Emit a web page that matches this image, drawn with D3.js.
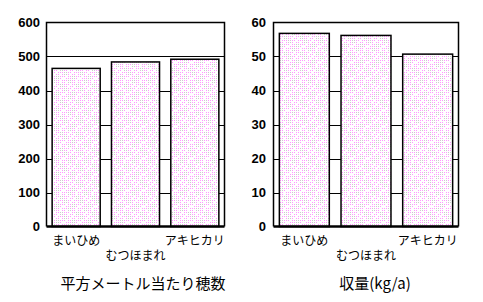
<!DOCTYPE html>
<html><head><meta charset="utf-8">
<script src="https://cdn.jsdelivr.net/npm/d3@7"></script>
<style>body{margin:0;background:#fff}svg{display:block}</style>
</head><body>
<script>
const categories = ["まいひめ", "むつほまれ", "アキヒカリ"];
const panicles = [465, 484, 492];
const yieldKg = [56.8, 56.2, 50.7];
const ticksLeft = [0, 100, 200, 300, 400, 500, 600];
const ticksRight = [0, 10, 20, 30, 40, 50, 60];
const titles = ["平方メートル当たり穂数", "収量(kg/a)"];

const W = 483, H = 302;
const svg = d3.select("body").append("svg").attr("width", W).attr("height", H);

// texture mask: p = pink dot, g = grey dot, . = gap (one cell = 2px)
const mask = [
  "ppggpp.p",
  "p.ggpp.p",
  "ppp.ppgg",
  "pp.pp.gg",
  "ggpp.ppp",
  "ggp.pp.p",
  "p.ppggpp",
  ".pppggp.",
];
const defs = svg.append("defs");
const P = 16;
const pat = defs.append("pattern").attr("id", "dots").attr("patternUnits", "userSpaceOnUse")
  .attr("width", P).attr("height", P);
pat.append("rect").attr("width", P).attr("height", P).attr("fill", "#fff");
mask.forEach((row, j) => row.split("").forEach((c, i) => {
  if (c === ".") return;
  pat.append("rect").attr("x", i * 2).attr("y", j * 2).attr("width", 1).attr("height", 1)
    .attr("fill", c === "g" ? "#cccccc" : "#ff99ff");
}));

function panel(opts) {
  const g = svg.append("g");
  const x = d3.scaleBand().domain(categories).range([opts.x0, opts.x1]).paddingInner(opts.pad).paddingOuter(opts.pad / 2);
  const y = d3.scaleLinear().domain([0, opts.max]).range([226.5, 22.5]);
  g.selectAll(".grid").data(opts.ticks.filter(t => t > 0 && t < opts.max)).join("line")
    .attr("x1", opts.x0).attr("x2", opts.x1)
    .attr("y1", d => Math.round(y(d)) + 0.5).attr("y2", d => Math.round(y(d)) + 0.5)
    .attr("stroke", "#000").attr("stroke-width", 1);
  g.selectAll(".bar").data(opts.values).join("rect")
    .attr("x", (d, i) => x(categories[i]))
    .attr("y", d => y(d))
    .attr("width", x.bandwidth())
    .attr("height", d => y(0) - y(d))
    .attr("fill", "url(#dots)").attr("stroke", "#000").attr("stroke-width", 1.5);
  g.append("path").attr("d", `M${opts.x0},${y(0)}V${y(opts.max)}H${opts.x1}V${y(0)}`)
    .attr("fill", "none").attr("stroke", "#000").attr("stroke-width", 1.5);
  g.append("line").attr("x1", opts.x0).attr("x2", opts.x1).attr("y1", y(0)).attr("y2", y(0))
    .attr("stroke", "#000").attr("stroke-width", 2.5);
  const ax = d3.axisLeft(y).tickValues(opts.ticks).tickSize(0).tickPadding(0);
  const axg = g.append("g").attr("transform", `translate(${opts.labelX},0)`).call(ax);
  axg.select(".domain").remove();
  axg.selectAll("text").attr("font-family", "Liberation Sans, Arial, sans-serif")
    .attr("font-weight", "bold").attr("font-size", 13).attr("fill", "#000");
  g.selectAll(".cat").data(categories).join("text")
    .attr("x", d => x(d) + x.bandwidth() / 2)
    .attr("y", (d, i) => i === 1 ? 260 : 245)
    .attr("text-anchor", "middle")
    .attr("font-family", "Noto Sans CJK JP").attr("font-size", 12).attr("fill", "#000")
    .text(d => d);
  g.append("text").attr("x", opts.titleX).attr("y", 289).attr("text-anchor", "middle")
    .attr("font-family", "Noto Sans CJK JP").attr("font-size", 15).attr("fill", "#000")
    .text(opts.title);
}

panel({x0: 46.5, x1: 224.5, pad: 0.19, max: 600, ticks: ticksLeft, values: panicles, labelX: 40, title: titles[0], titleX: 143});
panel({x0: 273.5, x1: 458.5, pad: 0.19, max: 60, ticks: ticksRight, values: yieldKg, labelX: 266, title: titles[1], titleX: 375});
</script>
</body></html>
